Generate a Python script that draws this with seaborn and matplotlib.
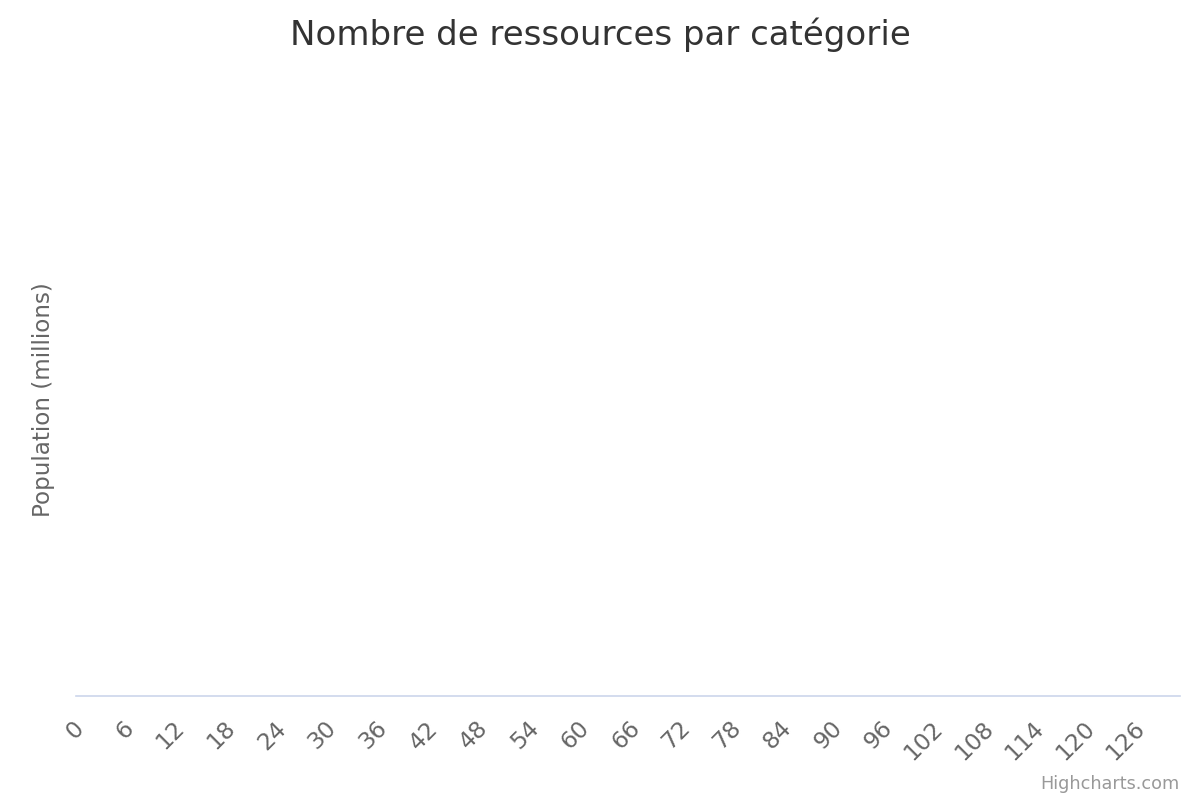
import matplotlib
matplotlib.use("Agg")
import matplotlib.pyplot as plt
import matplotlib.transforms as mtransforms
import seaborn as sns
import pandas as pd

# Chart content (the reference shows an empty series)
title = "Nombre de ressources par catégorie"
y_title = "Population (millions)"
credits = "Highcharts.com"
n_categories = 131
categories = [str(i) for i in range(n_categories)]
values = []  # no data points visible in the reference
tick_step = 6

sns.set_theme(style="white")
plt.rcParams['font.family'] = ['DejaVu Sans']

fig = plt.figure(figsize=(12, 8), dpi=100)
ax = fig.add_axes([76/1200, 1 - 696/800, (1180 - 76)/1200, (696 - 75)/800])

df = pd.DataFrame({"cat": pd.Series([], dtype=str), "val": pd.Series(values, dtype=float)})
if len(df):
    sns.barplot(data=df, x="cat", y="val", order=categories, ax=ax, color="#7cb5ec")

ax.set_xlim(-0.5, n_categories - 0.5)
ax.set_ylim(0, 1)
tick_pos = list(range(0, n_categories, tick_step))
ax.set_xticks(tick_pos)
ax.set_xticklabels([categories[i] for i in tick_pos], rotation=45, ha="right",
                   va="baseline", rotation_mode="anchor", fontsize=16.8, color="#666666")
ax.tick_params(axis="x", length=0, pad=24)
offset = mtransforms.ScaledTranslation(4.5/100, 0, fig.dpi_scale_trans)
for lbl in ax.get_xticklabels():
    lbl.set_transform(lbl.get_transform() + offset)
ax.set_yticks([])
ax.set_xlabel("")
ax.set_ylabel(y_title, fontsize=16.6, color="#666666", va="center")
ax.yaxis.set_label_coords((44 - 76)/1104, (696 - 400)/621)

for s in ["top", "right", "left"]:
    ax.spines[s].set_visible(False)
ax.spines["bottom"].set_color("#ccd6eb")
ax.spines["bottom"].set_linewidth(1.2)

fig.text(0.5, 1 - 35/800, title, ha="center", va="center", fontsize=24.5, color="#333333")
fig.text(1180/1200, 1 - 784/800, credits, ha="right", va="center", fontsize=12.7, color="#999999")

fig.savefig("out.png", dpi=100, facecolor="white")
